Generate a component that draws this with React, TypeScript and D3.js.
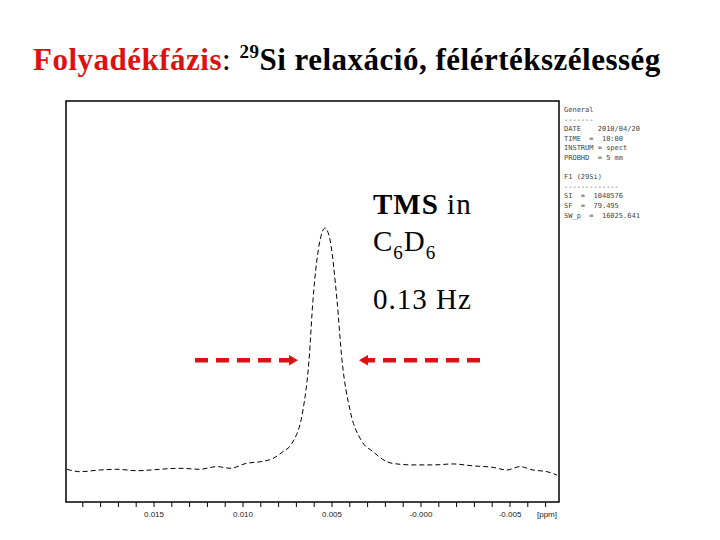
import React from "react";
import * as d3 from "d3";

// Spectrum trace (ppm, relative intensity)
const ppmValues = [0.01989, 0.01916, 0.01803, 0.01708, 0.01596, 0.01466, 0.01354, 0.01242, 0.01146, 0.01073, 0.00978, 0.00904, 0.00831, 0.00775, 0.00725, 0.00663, 0.00629, 0.00607, 0.00567, 0.00539, 0.00511, 0.00472, 0.00444, 0.00399, 0.00337, 0.0027, 0.00191, 0.00135, 0.00045, -0.00067, -0.0018, -0.00292, -0.00404, -0.00483, -0.00556, -0.00629, -0.00708, -0.00764];
const intensities = [0.3, -0.7, 0, 0.3, -0.3, 0.3, 0.7, 0.3, 1.4, 0.7, 2.8, 3.4, 4.8, 7.6, 11.0, 24.8, 45.5, 70.2, 95.0, 100, 95.0, 70.2, 45.5, 24.8, 12.4, 7.6, 3.4, 2.5, 2.1, 2.1, 2.5, 1.7, 1.1, 0, 1.4, 0, -0.7, -2.1];

const majorTicks = [0.015, 0.01, 0.005, 0.0, -0.005];
const majorTickLabels = ["0.015", "0.010", "0.005", "-0.000", "-0.005"];
const axisUnit = "[ppm]";

const paramLines = [
  "General",
  "-------",
  "DATE    2010/04/20",
  "TIME  =  10:00",
  "INSTRUM = spect",
  "PROBHD  = 5 mm",
  "",
  "F1 (29Si)",
  "-------------",
  "SI  =  1048576",
  "SF  =  79.495",
  "SW_p  =  16025.641",
];

const W = 720;
const H = 540;
const box = { left: 66, top: 101, right: 559, bottom: 502 };

export default function App() {
  const x = d3.scaleLinear().domain([0.0, -0.005]).range([421, 510]);
  const y = d3.scaleLinear().domain([0, 100]).range([470, 228]);
  const pts = ppmValues.map((p, i) => [p, intensities[i]] as [number, number]);
  const line = d3
    .line<[number, number]>()
    .x((d) => x(d[0]))
    .y((d) => y(d[1]))
    .curve(d3.curveMonotoneX);

  const minorTicks = d3.range(-7, 20).map((k) => k / 1000);

  const red = "#dd1111";
  const leftDashes = [0, 1, 2, 3, 4];
  const rightDashes = [0, 1, 2, 3, 4, 5];

  return (
    <svg
      width={W}
      height={H}
      style={{ position: "absolute", left: 0, top: 0, background: "#fff" }}
    >
      <rect x={0} y={0} width={W} height={H} fill="#fff" />
      {/* Title */}
      <text
        x={33}
        y={70}
        fontFamily="'Liberation Serif', 'Times New Roman', serif"
        fontSize={31}
        fontWeight="bold"
        letterSpacing={0.5}
      >
        <tspan fill={red}>Folyadékfázis</tspan>
        <tspan fill="#000" fontWeight="normal">: </tspan>
        <tspan fill="#000" fontSize={19} dy={-12}>29</tspan>
        <tspan fill="#000" dy={12}>Si relaxáció, félértékszélesség</tspan>
      </text>

      {/* Plot frame */}
      <rect
        x={box.left}
        y={box.top}
        width={box.right - box.left}
        height={box.bottom - box.top}
        fill="none"
        stroke="#000"
        strokeWidth={1.5}
      />

      {/* Spectrum */}
      <path
        d={line(pts) || ""}
        fill="none"
        stroke="#000"
        strokeWidth={1}
        strokeDasharray="5,3"
      />

      {/* Ticks */}
      {minorTicks.map((t) => (
        <line
          key={"m" + t}
          x1={x(t)}
          x2={x(t)}
          y1={box.bottom}
          y2={box.bottom + 5}
          stroke="#000"
          strokeWidth={1}
        />
      ))}
      {majorTicks.map((t, i) => (
        <text
          key={"l" + i}
          x={x(t)}
          y={517}
          textAnchor="middle"
          fontFamily="'Liberation Sans', Arial, sans-serif"
          fontSize={8}
          fill="#222"
        >
          {majorTickLabels[i]}
        </text>
      ))}
      <text
        x={557}
        y={517}
        textAnchor="end"
        fontFamily="'Liberation Sans', Arial, sans-serif"
        fontSize={8}
        fill="#222"
      >
        {axisUnit}
      </text>

      {/* Parameter panel */}
      {paramLines.map((s, i) => (
        <text
          key={"p" + i}
          x={564}
          y={112 + i * 9.6}
          fontFamily="'DejaVu Sans Mono', monospace"
          fontSize={7}
          fill="#444"
          xmlSpace="preserve"
          style={{ whiteSpace: "pre" }}
        >
          {s}
        </text>
      ))}

      {/* Annotation text */}
      <g
        fontFamily="'Liberation Serif', 'Times New Roman', serif"
        fontSize={29}
        fill="#000"
        letterSpacing={1}
      >
        <text x={373} y={214}>
          <tspan fontWeight="bold">TMS</tspan> in
        </text>
        <text x={373} y={251}>
          C<tspan fontSize={19} dy={8}>6</tspan>
          <tspan dy={-8}>D</tspan>
          <tspan fontSize={19} dy={8}>6</tspan>
        </text>
        <text x={373} y={309}>0.13 Hz</text>
      </g>

      {/* Red arrows */}
      {leftDashes.map((k) => (
        <rect key={"ld" + k} x={195 + k * 21} y={358} width={13} height={4.5} fill={red} />
      ))}
      <path d="M289,355 L298,360.25 L289,365.5 Z" fill={red} />
      {rightDashes.map((k) => (
        <rect key={"rd" + k} x={467 - k * 21} y={358} width={13} height={4.5} fill={red} />
      ))}
      <path d="M368,355 L359,360.25 L368,365.5 Z" fill={red} />
    </svg>
  );
}
